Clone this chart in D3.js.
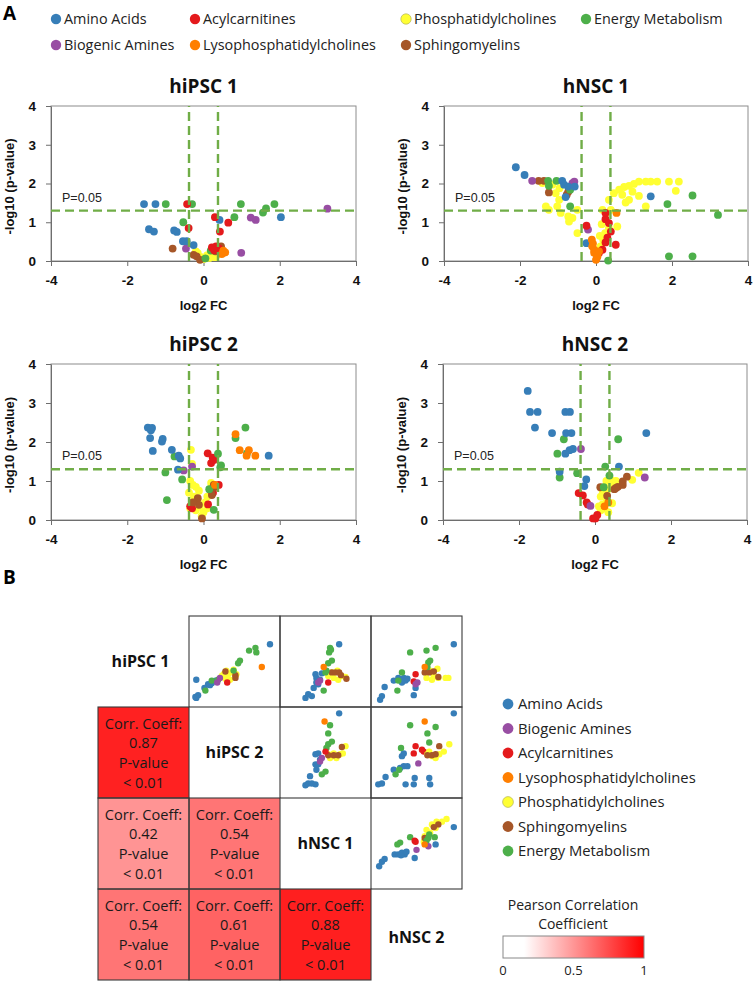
<!DOCTYPE html>
<html><head><meta charset="utf-8">
<script src="https://cdn.jsdelivr.net/npm/d3@7"></script>
<style>body{margin:0;background:#fff}svg{display:block}</style>
</head><body>
<script>
// ---------- DATA ----------
const categories = ["Amino Acids","Biogenic Amines","Acylcarnitines","Lysophosphatidylcholines","Phosphatidylcholines","Sphingomyelins","Energy Metabolism"];
const catColors = ["#377eb8","#984ea3","#e41a1c","#ff7f00","#ffff33","#a65628","#4daf4a"];
const xTicks = [-4,-2,0,2,4];
const yTicks = [0,1,2,3,4];
const pThreshold = 1.3;      // -log10(0.05)
const fcThreshold = 0.38;    // |log2 FC|
// volcano points: [category index, log2 FC, -log10 p]
const volcHiPSC1 = [
 [4,-0.15,0.2],[4,-0.05,0.1],[4,0.1,0.15],[4,0.25,0.2],[4,0.3,0.1],[4,0.0,0.05],[4,-0.2,0.25],[4,0.15,0.08],[4,0.35,0.15],
 [5,-0.81,0.32],[5,-0.26,0.16],[5,-0.18,0.12],[5,-0.09,0.03],[5,0.46,0.38],[5,0.31,0.25],
 [1,3.25,1.35],[1,1.24,1.12],[1,1.37,1.06],[1,0.99,0.21],[1,-0.46,0.32],
 [6,-0.99,1.47],[6,-0.30,1.47],[6,-0.53,1.0],[6,0.98,1.47],[6,0.81,1.13],[6,1.56,1.25],[6,1.64,1.36],[6,1.86,1.47],[6,0.19,0.27],[6,0.05,0.07],
 [0,-1.56,1.47],[0,-1.26,1.47],[0,-1.43,0.82],[0,-1.30,0.76],[0,-0.77,0.79],[0,-0.70,0.75],[0,-0.54,0.51],[0,-0.44,0.51],[0,-0.26,0.41],[0,0.42,1.06],[0,2.03,1.13],
 [2,-0.43,1.47],[2,-0.39,0.85],[2,0.30,1.13],[2,0.43,0.76],[2,0.65,0.99],[2,0.22,0.35],[2,0.33,0.38],[2,0.40,0.33],[2,0.28,0.28],
 [3,0.57,0.22],[3,0.48,0.18],[3,0.52,0.27]
];
const volcHNSC1 = [
 [4,-1.41,2.01],[4,-1.15,1.97],[4,-1.06,1.75],[4,-0.97,1.58],[4,-1.32,1.41],[4,-1.24,1.32],[4,-0.93,1.24],[4,-0.73,1.15],[4,-0.62,1.11],[4,-0.49,1.32],[4,-0.71,1.02],[4,-0.49,0.72],[4,-1.02,1.41],[4,-0.96,1.88],
 [4,0.17,1.32],[4,0.34,1.58],[4,0.47,1.75],[4,0.61,1.84],[4,0.74,1.91],[4,0.87,1.94],[4,1.0,1.99],[4,1.13,2.05],[4,1.31,2.05],[4,1.44,2.05],[4,1.61,2.05],[4,1.92,2.05],[4,2.18,2.05],[4,2.10,1.81],[4,1.13,1.68],[4,1.31,1.41],[4,0.78,1.51],[4,0.56,0.89],[4,0.34,0.85],[4,0.24,0.72],[4,0.19,0.55],[4,0.12,0.38],[4,0.27,1.24],[4,0.39,1.32],[4,0.87,1.58],[4,0.69,1.71],[4,0.96,1.79],[4,0.15,0.95],[4,0.1,0.65],[4,0.05,0.2],
 [5,-1.51,2.07],[5,-1.37,2.07],[5,-1.24,1.77],[5,-0.77,1.71],[5,-0.73,1.79],
 [1,-1.68,2.07],[1,-0.57,2.05],[1,-0.62,2.01],[1,-0.21,0.81],
 [6,-1.26,2.07],[6,-1.04,2.07],[6,-1.24,1.94],[6,-0.68,1.84],[6,-0.68,1.41],[6,1.88,1.47],[6,2.54,1.69],[6,3.21,1.19],[6,1.92,0.12],[6,2.54,0.12],[6,0.32,0.01],
 [0,-2.11,2.42],[0,-1.88,2.22],[0,-0.89,2.07],[0,-0.84,1.97],[0,-0.73,1.92],[0,-0.56,1.92],[0,-0.80,1.65],[0,1.44,1.67],[0,-0.25,0.46],
 [2,-0.25,0.91],[2,0.25,1.08],[2,0.34,0.98],[2,0.39,0.76],[2,0.25,0.48],[2,0.52,0.42],[2,0.17,0.29],[2,0.08,0.21],[2,0.25,1.24],[2,0.3,0.6],
 [3,0.54,1.24],[3,-0.11,0.55],[3,-0.10,0.38],[3,-0.05,0.21],[3,0.0,0.03],[3,0.04,0.12],[3,-0.05,0.29],[3,0.08,0.25],[3,-0.08,0.45],[3,0.02,0.08]
];
const volcHiPSC2 = [
 [4,-0.33,1.80],[4,-0.30,1.44],[4,-0.35,1.0],[4,-0.28,0.9],[4,-0.2,0.85],[4,-0.38,0.7],[4,-0.25,0.6],[4,-0.15,0.5],[4,-0.3,0.45],[4,-0.1,0.35],[4,-0.2,0.25],[4,0.0,0.2],[4,-0.05,0.1],[4,0.05,0.45],[4,0.1,0.3],[4,-0.35,0.3],[4,0.2,0.95],[4,-0.12,0.75],[4,0.1,0.6],
 [2,0.11,1.71],[2,0.2,1.46],[2,0.27,1.54],[2,0.24,1.6],[2,0.40,0.9],[2,0.18,0.77],[2,-0.30,0.30],[2,0.3,0.85],[2,0.25,0.7],[2,0.12,0.4],[2,-0.35,0.35],
 [5,-0.15,0.56],[5,-0.12,0.39],[5,-0.04,0.04],[5,0.27,0.90],[5,0.22,0.64],[5,-0.28,0.45],[5,0.25,0.82],
 [1,-0.52,1.27],[1,-0.30,1.37],
 [6,-0.76,1.63],[6,-1.0,1.22],[6,-0.56,1.04],[6,-0.96,0.51],[6,0.38,1.70],[6,0.46,1.40],[6,1.10,2.37],[6,0.84,2.10],[6,1.14,1.71],[6,0.15,0.79],[6,0.27,0.26],[6,0.44,1.35],
 [0,-1.46,2.37],[0,-1.35,2.36],[0,-1.40,2.10],[0,-1.07,2.08],[0,-1.09,2.01],[0,-1.33,1.77],[0,-0.83,1.80],[0,-0.65,1.65],[0,-0.61,1.58],[0,-0.67,1.29],[0,1.71,1.65],[0,-1.38,2.3],
 [3,0.84,2.20],[3,0.95,1.79],[3,1.19,1.79],[3,1.13,1.65],[3,1.36,1.65],[3,0.3,0.9]
];
const volcHNSC2 = [
 [4,1.15,1.21],[4,0.98,1.03],[4,0.45,0.43],[4,0.3,1.0],[4,0.4,1.05],[4,0.5,0.95],[4,0.2,0.75],[4,0.35,0.8],[4,0.15,0.6],[4,0.3,0.55],[4,0.2,0.4],[4,0.25,0.3],[4,0.15,0.25],[4,0.35,0.2],[4,0.45,0.9],[4,0.55,1.0],[4,0.1,0.35],[4,0.3,0.7],
 [3,0.35,0.45],[3,0.25,0.35],
 [5,0.14,0.84],[5,0.32,0.62],[5,0.51,0.79],[5,0.60,0.85],[5,0.73,0.9],[5,0.84,1.11],[5,0.73,0.99],[5,0.55,0.82],
 [2,-0.43,0.69],[2,-0.32,0.63],[2,-0.22,0.45],[2,-0.19,0.40],[2,-0.05,0.04],[2,0.06,0.13],[2,0.01,0.04],
 [1,-0.37,1.82],[1,-0.12,0.36],[1,1.31,1.09],
 [6,-0.82,2.07],[6,-0.99,1.70],[6,-0.93,1.09],[6,-0.47,1.2],[6,0.61,2.07],[6,0.27,1.37],[6,0.38,1.14],[6,0.23,0.84],
 [0,-1.77,3.31],[0,-1.71,2.77],[0,-1.51,2.77],[0,-1.58,2.37],[0,-1.13,2.23],[0,-0.78,2.77],[0,-0.66,2.77],[0,-0.76,2.23],[0,-0.62,2.23],[0,-0.58,1.82],[0,-0.67,1.79],[0,-0.78,1.70],[0,-0.93,1.24],[0,-0.23,1.04],[0,-0.28,0.87],[0,1.35,2.23],[0,0.63,1.37]
];
// pairwise comparison scatter (matrix upper triangle): [category, x, y] in 0..10 units
const pairHiPSC1_HiPSC2 = [
 [4,3.8,3.6],[4,4.1,4.0],[4,4.7,3.8],[4,5.1,3.4],[4,4.0,3.1],[4,4.5,3.0],[4,4.9,4.1],[4,3.6,3.4],[4,4.3,3.6],[4,5.2,3.6],
 [5,4.0,3.9],[5,5.1,3.5],[5,5.1,3.2],[2,4.2,2.7],
 [0,8.9,6.9],[0,0.8,3.0],[0,1.0,1.3],[0,0.8,1.0],[0,0.7,1.1],[0,1.7,2.1],[0,2.1,2.5],[0,2.5,2.6],[0,2.9,2.9],[0,2.3,2.4],
 [6,6.6,6.2],[6,7.3,6.5],[6,7.4,6.0],[6,5.6,5.1],[6,5.4,4.8],[6,2.5,2.9],[6,1.8,1.8],[6,4.9,4.0],[6,3.2,3.0],
 [3,8.0,4.4],[1,3.1,2.7],[1,3.4,3.2]
];
const pairHiPSC1_HNSC1 = [
 [0,6.5,6.9],[0,2.8,1.0],[0,3.1,1.4],[0,3.5,1.2],[0,3.7,2.1],[0,4.0,2.7],[0,3.9,3.6],[0,4.4,3.0],[0,4.6,3.7],[0,4.2,2.5],[0,4.0,3.2],
 [4,5.7,3.8],[4,6.3,4.0],[4,6.8,3.4],[4,7.2,3.3],[4,5.9,3.2],[4,6.4,3.0],[4,5.3,3.4],
 [5,5.7,3.8],[5,6.1,3.8],[5,6.5,3.8],[5,6.7,3.5],[5,7.3,3.1],
 [6,5.5,6.5],[6,5.4,6.0],[6,5.6,6.3],[6,5.7,5.1],[6,5.3,4.8],[6,5.0,3.8],[6,4.8,1.8],[6,5.1,4.0],
 [3,4.8,4.4],[1,4.2,2.7],[1,4.4,2.9],[2,5.3,2.7]
];
const pairHiPSC1_HNSC2 = [
 [4,6.0,3.8],[4,6.5,4.0],[4,6.9,3.4],[4,7.4,3.2],[4,8.2,3.2],[4,8.5,3.2],[4,6.1,3.2],[4,6.7,3.0],[4,7.3,4.2],
 [5,5.9,3.8],[5,6.4,3.8],[5,6.9,3.9],[5,7.4,3.3],
 [0,9.1,6.9],[0,1.0,0.8],[0,1.2,1.2],[0,1.5,2.2],[0,2.5,2.9],[0,3.0,3.2],[0,3.6,3.2],[0,3.8,2.9],[0,3.4,2.7],[0,4.0,3.1],[0,4.9,2.1],[0,4.7,1.3],
 [6,4.3,6.0],[6,6.1,6.2],[6,7.1,6.5],[6,6.3,4.9],[6,6.5,5.1],[6,3.4,3.8],[6,3.0,2.9],[6,2.9,1.8],[6,6.2,4.4],
 [2,4.9,3.6],[2,4.7,2.8],[1,5.1,2.7],[1,4.9,2.5],[3,5.9,4.4]
];
const pairHiPSC2_HNSC1 = [
 [0,6.5,9.3],[0,2.8,1.4],[0,3.1,1.6],[0,3.5,1.6],[0,3.9,1.5],[0,3.3,2.4],[0,4.0,3.1],[0,3.9,3.7],[0,4.2,4.9],[0,3.9,4.8],[0,4.4,4.2],[0,4.2,3.7],
 [6,5.5,8.0],[6,5.3,7.1],[6,5.7,6.2],[6,5.3,5.9],[6,5.0,2.9],[6,4.6,2.6],[6,5.1,5.5],
 [3,4.9,8.4],[1,4.4,4.0],[1,4.6,4.4],
 [4,5.3,4.8],[4,5.9,4.9],[4,6.6,4.8],[4,7.2,5.7],[4,6.9,4.9],[4,5.5,4.4],[4,6.2,4.4],
 [5,5.3,4.7],[5,5.9,4.7],[5,6.4,4.7],[5,6.8,5.6],[2,5.0,5.1]
];
const pairHiPSC2_HNSC2 = [
 [0,9.1,9.3],[0,1.2,1.6],[0,1.6,2.3],[0,0.8,1.5],[0,2.5,3.1],[0,3.2,3.3],[0,3.6,3.5],[0,4.0,3.5],[0,3.4,4.6],[0,3.6,4.9],[0,4.8,2.2],[0,3.8,1.5],[0,4.7,1.5],[0,6.5,1.5],[0,6.4,2.2],
 [6,4.3,8.0],[6,7.1,7.8],[6,6.2,7.1],[6,6.4,6.1],[6,3.3,5.5],[6,3.1,3.1],[6,2.7,2.6],
 [3,5.9,8.4],[2,4.9,5.7],[2,4.7,4.9],[2,5.6,5.3],[2,5.8,5.1],[1,5.2,3.8],
 [4,6.2,4.8],[4,6.7,4.6],[4,7.5,4.8],[4,8.0,5.1],[4,8.6,5.9],[4,6.4,5.1],[4,7.1,4.4],
 [5,6.2,4.7],[5,6.7,4.7],[5,7.5,5.7],[5,7.1,4.8]
];
const pairHNSC1_HNSC2 = [
 [0,9.1,6.8],[0,0.9,2.5],[0,1.2,3.0],[0,1.5,3.3],[0,2.6,3.8],[0,3.0,3.8],[0,3.4,4.0],[0,3.7,3.8],[0,3.9,4.1],[0,4.8,3.4],[0,7.1,4.9],[0,3.3,3.7],
 [4,6.1,6.5],[4,6.7,7.1],[4,7.2,7.4],[4,8.3,7.7],[4,7.8,7.4],[4,6.5,6.2],[4,5.9,5.8],[4,5.8,5.2],[4,7.1,6.7],
 [5,6.9,6.8],[5,7.4,7.1],[5,5.9,5.6],
 [6,2.9,4.9],[6,3.2,5.1],[6,4.3,5.7],[6,6.3,5.6],[6,6.4,6.0],[6,7.0,5.7],[6,6.1,5.3],
 [2,4.8,5.3],[2,4.9,5.2],[1,5.0,4.3],[1,6.3,4.7],[3,5.9,4.9]
];
const sampleNames = ["hiPSC 1","hiPSC 2","hNSC 1","hNSC 2"];
// Pearson correlation (lower triangle): [row, col, r]
const corrValues = [[1,0,0.87],[2,0,0.42],[2,1,0.54],[3,0,0.54],[3,1,0.61],[3,2,0.88]];
const corrPValue = "< 0.01";
const colorbarTicks = [0,0.5,1];

// ---------- DRAW ----------
const svg = d3.select("body").append("svg").attr("width",753).attr("height",981);
const SANS = "'Open Sans', 'Noto Sans', sans-serif";
const ARIAL = "'Liberation Sans', Arial, sans-serif";
const cat = d3.scaleOrdinal().domain(d3.range(categories.length)).range(catColors);

svg.append("text").attr("x",3).attr("y",20).text("A").attr("font-family",SANS).attr("font-weight",700).attr("font-size",19);
svg.append("text").attr("x",3).attr("y",584).text("B").attr("font-family",SANS).attr("font-weight",700).attr("font-size",19);

// top legend
const topLegendOrder = [[0,56,19],[2,195,19],[4,406,19],[6,586,19],[1,56,45],[3,195,45],[5,406,45]];
topLegendOrder.forEach(([c,x,y])=>{
  svg.append("circle").attr("cx",x).attr("cy",y).attr("r",5.2).attr("fill",cat(c)).attr("stroke",c===4?"#b5b55a":"none").attr("stroke-width",0.7);
  svg.append("text").attr("x",x+8).attr("y",y).attr("dy","0.35em").text(categories[c]).attr("font-family",SANS).attr("font-size",14.4).attr("fill","#222");
});

const panels = [
  {title:"hiPSC 1", data:volcHiPSC1, xr:[51,356], yr:[261,106]},
  {title:"hNSC 1", data:volcHNSC1, xr:[444,748], yr:[261,106]},
  {title:"hiPSC 2", data:volcHiPSC2, xr:[51,356], yr:[520,364]},
  {title:"hNSC 2", data:volcHNSC2, xr:[443,747], yr:[520,364]}
];
const fmt = d => String(d).replace("\u2212","-");
panels.forEach(p=>{
  const x = d3.scaleLinear().domain([-4,4]).range(p.xr);
  const y = d3.scaleLinear().domain([0,4]).range(p.yr);
  const g = svg.append("g");
  g.append("rect").attr("x",p.xr[0]).attr("y",p.yr[1]).attr("width",p.xr[1]-p.xr[0]).attr("height",p.yr[0]-p.yr[1])
    .attr("fill","none").attr("stroke","#8c8c8c").attr("stroke-width",1);
  const ax = g.append("g").attr("transform",`translate(0,${p.yr[0]})`)
    .call(d3.axisBottom(x).tickValues(xTicks).tickFormat(fmt).tickSize(5).tickSizeOuter(0).tickPadding(9));
  const ay = g.append("g").attr("transform",`translate(${p.xr[0]},0)`)
    .call(d3.axisLeft(y).tickValues(yTicks).tickFormat(fmt).tickSize(5).tickSizeOuter(0).tickPadding(10));
  [ax,ay].forEach(a=>{
    a.select(".domain").attr("stroke","#6e6e6e");
    a.selectAll(".tick line").attr("stroke","#6e6e6e");
    a.selectAll("text").attr("font-family",ARIAL).attr("font-weight",700).attr("font-size",13.5).attr("fill","#111");
  });
  g.append("g").selectAll("circle").data(p.data).join("circle")
    .attr("cx",d=>x(d[1])).attr("cy",d=>y(d[2])).attr("r",3.9).attr("fill",d=>cat(d[0]));
  const dash = "9,5";
  g.append("line").attr("x1",x(-4)).attr("x2",x(4)).attr("y1",y(pThreshold)).attr("y2",y(pThreshold))
    .attr("stroke","#70ad47").attr("stroke-width",2.4).attr("stroke-dasharray",dash);
  [-fcThreshold,fcThreshold].forEach(v=>{
    g.append("line").attr("x1",x(v)).attr("x2",x(v)).attr("y1",y(0)).attr("y2",y(4))
      .attr("stroke","#70ad47").attr("stroke-width",2.4).attr("stroke-dasharray",dash);
  });
  g.append("text").attr("x",p.xr[0]+11).attr("y",y(pThreshold)-9).text("P=0.05")
    .attr("font-family",ARIAL).attr("font-size",12.5).attr("fill","#222");
  const cx = (p.xr[0]+p.xr[1])/2;
  g.append("text").attr("x",cx).attr("y",p.yr[1]-13).attr("text-anchor","middle").text(p.title)
    .attr("font-family",SANS).attr("font-weight",700).attr("font-size",19).attr("fill","#111");
  g.append("text").attr("x",cx).attr("y",p.yr[0]+49).attr("text-anchor","middle").text("log2 FC")
    .attr("font-family",ARIAL).attr("font-weight",700).attr("font-size",13).attr("fill","#111");
  g.append("text").attr("transform",`translate(${p.xr[0]-37},${(p.yr[0]+p.yr[1])/2+3}) rotate(-90)`)
    .attr("text-anchor","middle").text("-log10 (p-value)")
    .attr("font-family",ARIAL).attr("font-weight",700).attr("font-size",13).attr("fill","#111");
});

// ---------- Panel B matrix ----------
const m0x = 98, m0y = 616, cs = 91;
const heat = d3.scaleLinear().domain([0,1]).range(["#ffffff","#ff0000"]);
const mg = svg.append("g");
const pairs = [[0,1,pairHiPSC1_HiPSC2],[0,2,pairHiPSC1_HNSC1],[0,3,pairHiPSC1_HNSC2],[1,2,pairHiPSC2_HNSC1],[1,3,pairHiPSC2_HNSC2],[2,3,pairHNSC1_HNSC2]];
pairs.forEach(([r,c,data])=>{
  const x0 = m0x + c*cs, y0 = m0y + r*cs;
  const sx = d3.scaleLinear().domain([0,10]).range([x0,x0+cs]);
  const sy = d3.scaleLinear().domain([0,10]).range([y0+cs,y0]);
  mg.append("g").selectAll("circle").data(data).join("circle")
    .attr("cx",d=>sx(d[1])).attr("cy",d=>sy(d[2])).attr("r",3.2).attr("fill",d=>cat(d[0]));
});
corrValues.forEach(([r,c,v])=>{
  const x0 = m0x + c*cs, y0 = m0y + r*cs;
  mg.append("rect").attr("x",x0).attr("y",y0).attr("width",cs).attr("height",cs).attr("fill",heat(v));
  const lines = ["Corr. Coeff:", v.toFixed(2), "P-value", corrPValue];
  lines.forEach((t,i)=>{
    mg.append("text").attr("x",x0+cs/2).attr("y",y0+cs/2-29+i*19.8).attr("dy","0.35em").attr("text-anchor","middle")
      .text(t).attr("font-family",SANS).attr("font-size",14.6).attr("fill","#1a1a1a");
  });
});
pairs.concat(corrValues.map(d=>[d[0],d[1]])).forEach(([r,c])=>{
  mg.append("rect").attr("x",m0x+c*cs).attr("y",m0y+r*cs).attr("width",cs).attr("height",cs)
    .attr("fill","none").attr("stroke","#3a3a3a").attr("stroke-width",1.1);
});
sampleNames.forEach((n,i)=>{
  mg.append("text").attr("x",m0x+i*cs+cs/2-(i===0?3:0)).attr("y",m0y+i*cs+cs/2+(i===3?3:0)).attr("dy","0.35em").attr("text-anchor","middle")
    .text(n).attr("font-family",SANS).attr("font-weight",700).attr("font-size",16).attr("fill","#111");
});

// right legend
categories.forEach((c,i)=>{
  const y = 704 + i*24.5;
  svg.append("circle").attr("cx",508).attr("cy",y).attr("r",5.4).attr("fill",catColors[i]).attr("stroke",i===4?"#b5b55a":"none").attr("stroke-width",0.7);
  svg.append("text").attr("x",518).attr("y",y).attr("dy","0.35em").text(c).attr("font-family",SANS).attr("font-size",14.8).attr("fill","#222");
});

// color bar
const defs = svg.append("defs");
const grad = defs.append("linearGradient").attr("id","cbar");
grad.append("stop").attr("offset","0%").attr("stop-color",heat(0));
grad.append("stop").attr("offset","15%").attr("stop-color",heat(0));
grad.append("stop").attr("offset","100%").attr("stop-color",heat(1));
const cb = d3.scaleLinear().domain([0,1]).range([503,644]);
svg.append("rect").attr("x",cb(0)).attr("y",936).attr("width",cb(1)-cb(0)).attr("height",22)
  .attr("fill","url(#cbar)").attr("stroke","#888").attr("stroke-width",1);
svg.append("text").attr("x",573).attr("y",905).attr("dy","0.35em").attr("text-anchor","middle").text("Pearson Correlation")
  .attr("font-family",SANS).attr("font-size",14).attr("fill","#222");
svg.append("text").attr("x",573).attr("y",924).attr("dy","0.35em").attr("text-anchor","middle").text("Coefficient")
  .attr("font-family",SANS).attr("font-size",14).attr("fill","#222");
colorbarTicks.forEach(t=>{
  svg.append("text").attr("x",cb(t)).attr("y",970).attr("dy","0.35em").attr("text-anchor","middle").text(String(t))
    .attr("font-family",SANS).attr("font-size",13).attr("fill","#222");
});
</script>
</body></html>
